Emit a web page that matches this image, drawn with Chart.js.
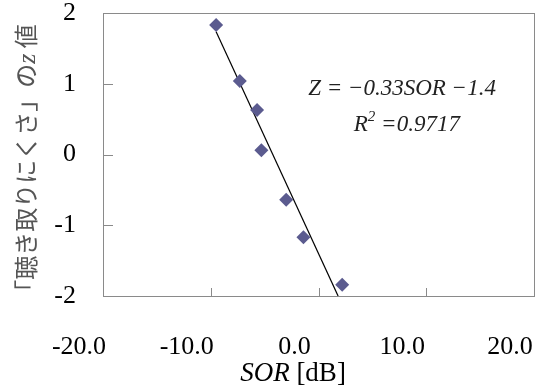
<!DOCTYPE html>
<html>
<head>
<meta charset="utf-8">
<script src="https://cdn.jsdelivr.net/npm/chart.js@4.4.0/dist/chart.umd.min.js"></script>
<style>
html, body { margin: 0; padding: 0; background: #fff; }
#wrap { width: 558px; height: 389px; }
</style>
</head>
<body>
<div id="wrap"><canvas id="c"></canvas></div>
<script>
// measured points: SOR [dB] vs z value
var sorValues = [-9.5, -7.3, -5.7, -5.3, -3.0, -1.4, 2.2];
var zValues = [1.83, 1.04, 0.63, 0.06, -0.64, -1.17, -1.84];
// regression line from the equation shown on the chart
var fitSlope = -0.33;
var fitIntercept = -1.4;
var fitRange = [-9.5, 1.82];
var xTicks = [-20, -10, 0, 10, 20];
var yTicks = [-2, -1, 0, 1, 2];

var serif = '"Liberation Serif", "Times New Roman", serif';
var jp = '"Noto Sans CJK JP", sans-serif';

var points = sorValues.map(function (x, i) { return { x: x, y: zValues[i] }; });
var fitLine = fitRange.map(function (x) { return { x: x, y: fitSlope * x + fitIntercept }; });

function drawRuns(ctx, runs, cx, cy) {
  var total = 0;
  runs.forEach(function (r) {
    ctx.font = r.font;
    r.w = ctx.measureText(r.text).width;
    total += r.w;
  });
  var x = cx - total / 2;
  ctx.textAlign = 'left';
  ctx.textBaseline = 'alphabetic';
  runs.forEach(function (r) {
    ctx.font = r.font;
    ctx.fillStyle = r.color || '#000';
    ctx.fillText(r.text, x, cy + (r.dy || 0));
    x += r.w;
  });
}

function noPad(s) {
  s.paddingTop = 0; s.paddingBottom = 0;
  s.paddingLeft = 0; s.paddingRight = 0;
}

var framePlugin = {
  id: 'frame',
  beforeDatasetsDraw: function (chart) {
    var ctx = chart.ctx, a = chart.chartArea;
    var sx = chart.scales.x, sy = chart.scales.y;
    ctx.save();
    ctx.strokeStyle = '#8a8a8a';
    ctx.lineWidth = 1;
    ctx.strokeRect(a.left + 0.5, a.top + 0.5, a.right - a.left, a.bottom - a.top);
    ctx.beginPath();
    xTicks.forEach(function (v) {
      var px = Math.round(sx.getPixelForValue(v)) + 0.5;
      ctx.moveTo(px, a.bottom);
      ctx.lineTo(px, a.bottom - 8);
    });
    yTicks.forEach(function (v) {
      var py = Math.round(sy.getPixelForValue(v)) + 0.5;
      ctx.moveTo(a.left, py);
      ctx.lineTo(a.left + 10, py);
    });
    ctx.stroke();
    ctx.restore();
  },
  afterDraw: function (chart) {
    var ctx = chart.ctx;
    var sx = chart.scales.x, sy = chart.scales.y;
    ctx.save();
    // equation and R^2
    drawRuns(ctx, [
      { text: 'Z = \u22120.33SOR \u22121.4', font: 'italic 23px ' + serif, color: '#222' }
    ], sx.getPixelForValue(7.75), sy.getPixelForValue(0.95) + 8);
    drawRuns(ctx, [
      { text: 'R', font: 'italic 23px ' + serif, color: '#222' },
      { text: '2', font: 'italic 15px ' + serif, color: '#222', dy: -10 },
      { text: ' =0.9717', font: 'italic 23px ' + serif, color: '#222' }
    ], sx.getPixelForValue(8.2), sy.getPixelForValue(0.445) + 8);

    // x title
    drawRuns(ctx, [
      { text: 'SOR', font: 'italic 27px ' + serif },
      { text: ' [dB]', font: '27px ' + serif }
    ], 293, 381);

    // y title (rotated)
    ctx.translate(26, 164);
    ctx.rotate(-Math.PI / 2);
    drawRuns(ctx, [
      { text: '「聴き取りにくさ」の', font: '24px ' + jp, color: '#555' },
      { text: 'z', font: 'italic 26px ' + serif, color: '#555' },
      { text: ' 値', font: '24px ' + jp, color: '#555' }
    ], 0, 9);
    ctx.restore();
  }
};

new Chart(document.getElementById('c'), {
  type: 'scatter',
  data: {
    datasets: [{
      label: 'z',
      data: points,
      pointStyle: 'rectRot',
      pointRadius: 7,
      pointBackgroundColor: '#5b5b8f',
      pointBorderColor: '#5b5b8f',
      pointBorderWidth: 0,
      order: 1
    }, {
      label: 'fit',
      data: fitLine,
      showLine: true,
      borderColor: '#000',
      borderWidth: 1.2,
      pointRadius: 0,
      order: 2
    }]
  },
  options: {
    responsive: true,
    maintainAspectRatio: false,
    animation: false,
    events: [],
    layout: { padding: { top: 13, right: 24, left: 0, bottom: 0 }, autoPadding: false },
    plugins: { legend: { display: false }, tooltip: { enabled: false } },
    scales: {
      x: {
        type: 'linear', min: -20, max: 20,
        afterBuildTicks: function (s) { s.ticks = xTicks.map(function (v) { return { value: v }; }); },
        afterFit: function (s) { s.height = 93; noPad(s); },
        grid: { display: false, drawTicks: false },
        border: { display: false },
        ticks: {
          padding: 36, labelOffset: -24, maxRotation: 0, color: '#000',
          font: { family: serif, size: 26 },
          callback: function (v) { return v.toFixed(1); }
        }
      },
      y: {
        type: 'linear', min: -2, max: 2,
        afterBuildTicks: function (s) { s.ticks = yTicks.map(function (v) { return { value: v }; }); },
        afterFit: function (s) { s.width = 103; noPad(s); },
        grid: { display: false, drawTicks: false },
        border: { display: false },
        ticks: {
          padding: 27, color: '#000',
          font: { family: serif, size: 26 },
          callback: function (v) { return String(v); }
        }
      }
    }
  },
  plugins: [framePlugin]
});
</script>
</body>
</html>
